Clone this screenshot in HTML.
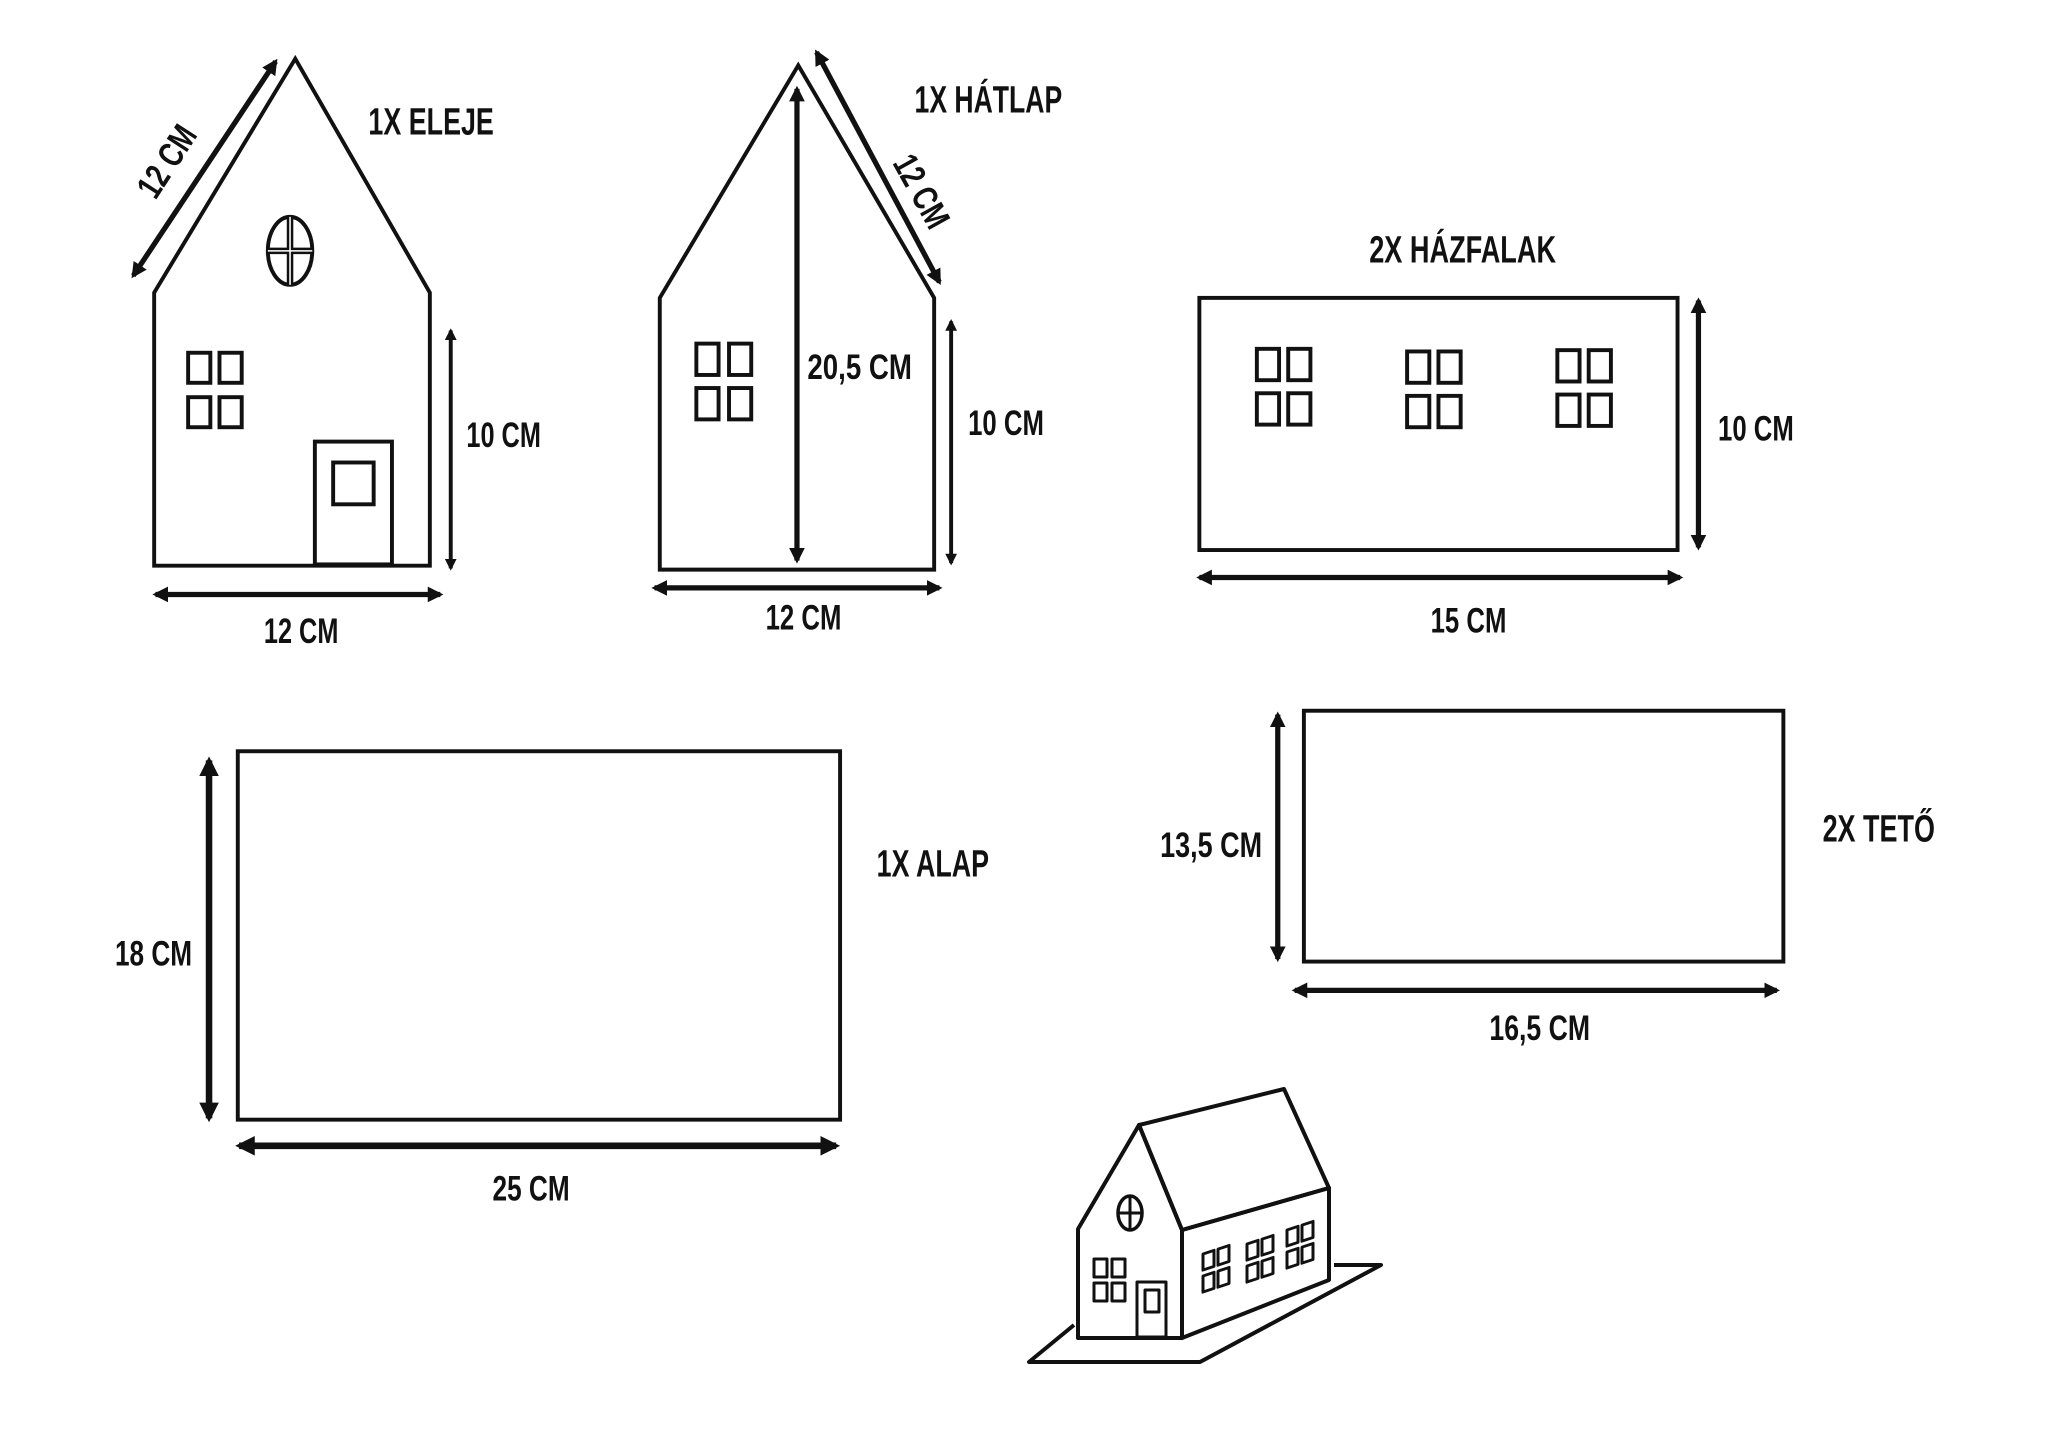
<!DOCTYPE html>
<html><head><meta charset="utf-8"><style>
html,body{margin:0;padding:0;background:#fff;}
svg{display:block;}
text{font-family:"Liberation Sans Narrow","Liberation Sans",sans-serif;font-weight:bold;fill:#111;}
</style></head><body>
<svg width="2048" height="1448" viewBox="0 0 2048 1448" xmlns="http://www.w3.org/2000/svg">
<defs>
<marker id="ah" viewBox="0 0 10 10" refX="8" refY="5" markerWidth="3" markerHeight="3" orient="auto-start-reverse" markerUnits="strokeWidth">
<path d="M0,0 L10,5 L0,10 Z" fill="#111"/></marker>
</defs>
<g transform="scale(1.3065)" fill="none" stroke="#111" stroke-width="3" stroke-linejoin="miter">
<polygon points="118,433 118,224 226,45 329,224 329,433"/>
<ellipse cx="222" cy="192" rx="17" ry="26"/>
<line x1="222" y1="166" x2="222" y2="218" stroke-width="5"/>
<line x1="205" y1="192" x2="239" y2="192" stroke-width="5"/>
<line x1="222" y1="166" x2="222" y2="218" stroke="#fff" stroke-width="1.2"/>
<line x1="205" y1="192" x2="239" y2="192" stroke="#fff" stroke-width="1.2"/>
<rect x="144" y="270" width="17" height="23"/><rect x="168" y="270" width="17" height="23"/>
<rect x="144" y="304" width="17" height="23"/><rect x="168" y="304" width="17" height="23"/>
<rect x="241" y="338" width="59" height="94"/>
<rect x="255" y="354" width="31" height="32"/>
<line x1="102" y1="211" x2="211" y2="47" stroke-width="4" marker-start="url(#ah)" marker-end="url(#ah)"/>
<line x1="345" y1="253" x2="345" y2="435" stroke-width="3" marker-start="url(#ah)" marker-end="url(#ah)"/>
<line x1="119" y1="455" x2="337" y2="455" stroke-width="4" marker-start="url(#ah)" marker-end="url(#ah)"/>
<polygon points="505,436 505,228 611,50 715,228 715,436"/>
<rect x="533" y="263" width="17" height="24"/><rect x="558" y="263" width="17" height="24"/>
<rect x="533" y="297" width="17" height="24"/><rect x="558" y="297" width="17" height="24"/>
<line x1="610" y1="68" x2="610" y2="429" stroke-width="4" marker-start="url(#ah)" marker-end="url(#ah)"/>
<line x1="625" y1="40" x2="719" y2="216" stroke-width="4" marker-start="url(#ah)" marker-end="url(#ah)"/>
<line x1="728" y1="246" x2="728" y2="431" stroke-width="3" marker-start="url(#ah)" marker-end="url(#ah)"/>
<line x1="501" y1="450" x2="719" y2="450" stroke-width="4" marker-start="url(#ah)" marker-end="url(#ah)"/>
<rect x="918" y="228" width="366" height="193"/>
<g>
<rect x="962" y="267" width="17" height="24"/><rect x="986" y="267" width="17" height="24"/>
<rect x="962" y="301" width="17" height="24"/><rect x="986" y="301" width="17" height="24"/>
<rect x="1077" y="269" width="17" height="24"/><rect x="1101" y="269" width="17" height="24"/>
<rect x="1077" y="303" width="17" height="24"/><rect x="1101" y="303" width="17" height="24"/>
<rect x="1192" y="268" width="17" height="24"/><rect x="1216" y="268" width="17" height="24"/>
<rect x="1192" y="302" width="17" height="24"/><rect x="1216" y="302" width="17" height="24"/>
</g>
<line x1="1300" y1="230" x2="1300" y2="419" stroke-width="4" marker-start="url(#ah)" marker-end="url(#ah)"/>
<line x1="918" y1="442" x2="1286" y2="442" stroke-width="4" marker-start="url(#ah)" marker-end="url(#ah)"/>
<rect x="182" y="575" width="461" height="282"/>
<line x1="160" y1="582" x2="160" y2="856" stroke-width="5" marker-start="url(#ah)" marker-end="url(#ah)"/>
<line x1="183" y1="877" x2="640" y2="877" stroke-width="5" marker-start="url(#ah)" marker-end="url(#ah)"/>
<rect x="998" y="544" width="367" height="192"/>
<line x1="978" y1="547" x2="978" y2="734" stroke-width="4" marker-start="url(#ah)" marker-end="url(#ah)"/>
<line x1="991" y1="758" x2="1360" y2="758" stroke-width="4" marker-start="url(#ah)" marker-end="url(#ah)"/>
</g>
<g fill="none" stroke="#111" stroke-width="4" stroke-linejoin="round">
<polyline points="1074,1325 1029,1362 1200,1362 1381,1265 1334,1265"/>
<polygon points="1078,1338 1078,1229 1139,1125 1182,1230 1182,1338"/>
<polygon points="1139,1125 1284,1089 1329,1188 1182,1230"/>
<polygon points="1182,1230 1329,1188 1329,1280 1182,1338"/>
<ellipse cx="1130" cy="1213" rx="12" ry="17" stroke-width="3.5"/>
<line x1="1130" y1="1196" x2="1130" y2="1230" stroke-width="3"/>
<line x1="1118" y1="1213" x2="1142" y2="1213" stroke-width="3"/>
<g stroke-width="3">
<rect x="1094" y="1259" width="13" height="18"/><rect x="1112" y="1259" width="13" height="18"/>
<rect x="1094" y="1283" width="13" height="18"/><rect x="1112" y="1283" width="13" height="18"/>
<rect x="1137" y="1282" width="29" height="55"/>
<rect x="1145" y="1290" width="14" height="22"/>
<g transform="translate(1203,1254) skewY(-18)">
<rect x="0" y="0" width="11" height="16"/><rect x="15" y="0" width="11" height="16"/>
<rect x="0" y="22" width="11" height="16"/><rect x="15" y="22" width="11" height="16"/>
</g>
<g transform="translate(1247,1244) skewY(-18)">
<rect x="0" y="0" width="11" height="16"/><rect x="15" y="0" width="11" height="16"/>
<rect x="0" y="22" width="11" height="16"/><rect x="15" y="22" width="11" height="16"/>
</g>
<g transform="translate(1287,1230) skewY(-18)">
<rect x="0" y="0" width="11" height="16"/><rect x="15" y="0" width="11" height="16"/>
<rect x="0" y="22" width="11" height="16"/><rect x="15" y="22" width="11" height="16"/>
</g>
</g>
</g>
<g transform="scale(1.3065)" font-size="29">
<text x="282" y="103" textLength="96" lengthAdjust="spacingAndGlyphs">1X ELEJE</text>
<text x="357" y="342" font-size="27" textLength="57" lengthAdjust="spacingAndGlyphs">10 CM</text>
<text x="202" y="492" font-size="27" textLength="57" lengthAdjust="spacingAndGlyphs">12 CM</text>
<text transform="translate(127,123) rotate(-57)" x="-30" y="10" font-size="27" textLength="60" lengthAdjust="spacingAndGlyphs">12 CM</text>
<text x="700" y="86" textLength="113" lengthAdjust="spacingAndGlyphs">1X HÁTLAP</text>
<text x="618" y="290" font-size="27" textLength="80" lengthAdjust="spacingAndGlyphs">20,5 CM</text>
<text transform="translate(706,146) rotate(61)" x="-30" y="10" font-size="27" textLength="60" lengthAdjust="spacingAndGlyphs">12 CM</text>
<text x="741" y="333" font-size="27" textLength="58" lengthAdjust="spacingAndGlyphs">10 CM</text>
<text x="586" y="482" font-size="27" textLength="58" lengthAdjust="spacingAndGlyphs">12 CM</text>
<text x="1048" y="201" textLength="143" lengthAdjust="spacingAndGlyphs">2X HÁZFALAK</text>
<text x="1315" y="337" font-size="27" textLength="58" lengthAdjust="spacingAndGlyphs">10 CM</text>
<text x="1095" y="484" font-size="27" textLength="58" lengthAdjust="spacingAndGlyphs">15 CM</text>
<text x="88" y="739" font-size="27" textLength="59" lengthAdjust="spacingAndGlyphs">18 CM</text>
<text x="377" y="919" font-size="27" textLength="59" lengthAdjust="spacingAndGlyphs">25 CM</text>
<text x="671" y="671" textLength="86" lengthAdjust="spacingAndGlyphs">1X ALAP</text>
<text x="888" y="656" font-size="27" textLength="78" lengthAdjust="spacingAndGlyphs">13,5 CM</text>
<text x="1140" y="796" font-size="27" textLength="77" lengthAdjust="spacingAndGlyphs">16,5 CM</text>
<text x="1395" y="644" textLength="86" lengthAdjust="spacingAndGlyphs">2X TETŐ</text>
</g>
</svg>
</body></html>
